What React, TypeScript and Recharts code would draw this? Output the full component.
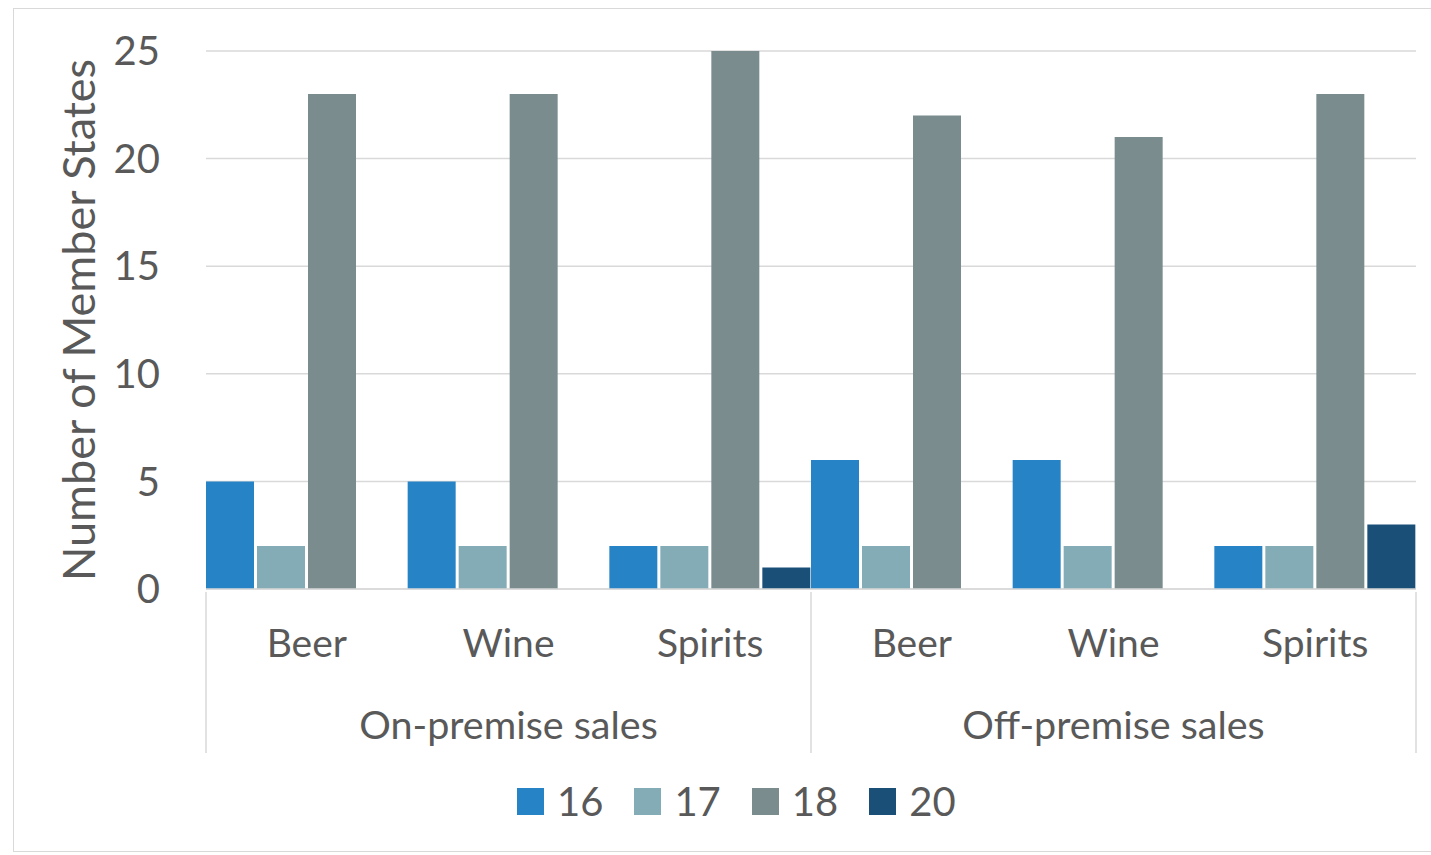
import React from 'react';
import { BarChart, Bar, XAxis, YAxis, CartesianGrid, Legend } from 'recharts';

const categories = ['Beer', 'Wine', 'Spirits', 'Beer', 'Wine', 'Spirits'];
const groups = ['On-premise sales', 'On-premise sales', 'On-premise sales', 'Off-premise sales', 'Off-premise sales', 'Off-premise sales'];
const age16 = [5, 5, 2, 6, 6, 2];
const age17 = [2, 2, 2, 2, 2, 2];
const age18 = [23, 23, 25, 22, 21, 23];
const age20 = [0, 0, 1, 0, 0, 3];
const seriesNames = ['16', '17', '18', '20'];
const seriesColors = ['#2683C6', '#84ACB6', '#7A8C8E', '#1A4F78'];
const yTicks = [0, 5, 10, 15, 20, 25];
const yTitle = 'Number of Member States';

const data = categories.map((c, i) => ({
  idx: String(i),
  name: c,
  group: groups[i],
  s16: age16[i],
  s17: age17[i],
  s18: age18[i],
  s20: age20[i],
}));
const keys = ['s16', 's17', 's18', 's20'];

const FONT = 'Lato, "Open Sans", sans-serif';
const TXT = '#595959';
const LINE = '#D9D9D9';

const CatTick = (props: any) => {
  const { x, y, payload } = props;
  const i = Number(payload.value);
  return (
    <text x={x} y={y} textAnchor="middle" dominantBaseline="central" fontFamily={FONT} fontSize={39} fill={TXT}>
      {categories[i]}
    </text>
  );
};

const GroupTick = (props: any) => {
  const { x, y, payload } = props;
  const i = Number(payload.value);
  const half = payload.offset || 0;
  const els: any[] = [];
  const isStart = i === 0 || groups[i] !== groups[i - 1];
  const isEnd = i === groups.length - 1;
  const top = y - 131;
  const bottom = y + 30;
  if (isStart) {
    els.push(<line key="l" x1={x - half} x2={x - half} y1={top} y2={bottom} stroke={LINE} strokeWidth={1.5} />);
  }
  if (isEnd) {
    els.push(<line key="r" x1={x + half} x2={x + half} y1={top} y2={bottom} stroke={LINE} strokeWidth={1.5} />);
  }
  const members = groups.map((g, k) => (g === groups[i] ? k : -1)).filter((k) => k >= 0);
  const mid = members[Math.floor(members.length / 2)];
  if (i === mid) {
    els.push(
      <text key="t" x={x} y={y} textAnchor="middle" dominantBaseline="central" fontFamily={FONT} fontSize={39.5} fill={TXT}>
        {groups[i]}
      </text>
    );
  }
  return <g>{els}</g>;
};

const LegendContent = () => (
  <div style={{ display: 'flex', alignItems: 'center', height: 50, fontFamily: FONT, fontSize: 40, color: TXT }}>
    {seriesNames.map((n, i) => (
      <div key={n} style={{ display: 'flex', alignItems: 'center', marginRight: 31 }}>
        <div style={{ width: 27, height: 27, background: seriesColors[i], marginRight: 13 }} />
        <span>{n}</span>
      </div>
    ))}
  </div>
);

const YTitle = (props: any) => {
  const vb = props.viewBox || { x: 0, y: 0, width: 0, height: 0 };
  const cx = vb.x + 78;
  const cy = vb.y + vb.height / 2;
  return (
    <text x={cx} y={cy} transform={`rotate(-90 ${cx} ${cy})`} textAnchor="middle" dominantBaseline="central" fontFamily={FONT} fontSize={45} fill={TXT}>
      {yTitle}
    </text>
  );
};

export default function App() {
  return (
    <div style={{ position: 'absolute', left: 0, top: 0, width: 1431, height: 855, background: '#fff', overflow: 'hidden' }}>
      <div style={{ position: 'absolute', left: 13, top: 8, width: 1440, height: 844, border: '1.5px solid #D9D9D9', boxSizing: 'border-box' }} />
      <BarChart
        width={1431}
        height={855}
        data={data}
        margin={{ top: 51, right: 15, left: 0, bottom: 55 }}
        barCategoryGap={0}
        barGap={3}
      >
        <CartesianGrid vertical={false} stroke={LINE} strokeWidth={1.5} />
        <XAxis
          dataKey="idx"
          height={80}
          tickLine={false}
          tickSize={0}
          tickMargin={53}
          axisLine={{ stroke: LINE, strokeWidth: 1.5 }}
          tick={<CatTick />}
          interval={0}
        />
        <XAxis
          xAxisId="grp"
          dataKey="idx"
          height={81}
          tickLine={false}
          tickSize={0}
          tickMargin={54}
          axisLine={false}
          tick={<GroupTick />}
          interval={0}
        />
        <YAxis
          width={206}
          domain={[0, 25]}
          ticks={yTicks}
          tickLine={false}
          axisLine={false}
          tickMargin={40}
          tick={{ fontFamily: FONT, fontSize: 40, fill: TXT }}
          label={<YTitle />}
        />
        <Legend
          content={<LegendContent />}
          verticalAlign="bottom"
          wrapperStyle={{ top: 776, bottom: 'auto', left: 517, width: 600 }}
        />
        {keys.map((k, i) => (
          <Bar key={k} dataKey={k} name={seriesNames[i]} fill={seriesColors[i]} isAnimationActive={false} />
        ))}
      </BarChart>
    </div>
  );
}
